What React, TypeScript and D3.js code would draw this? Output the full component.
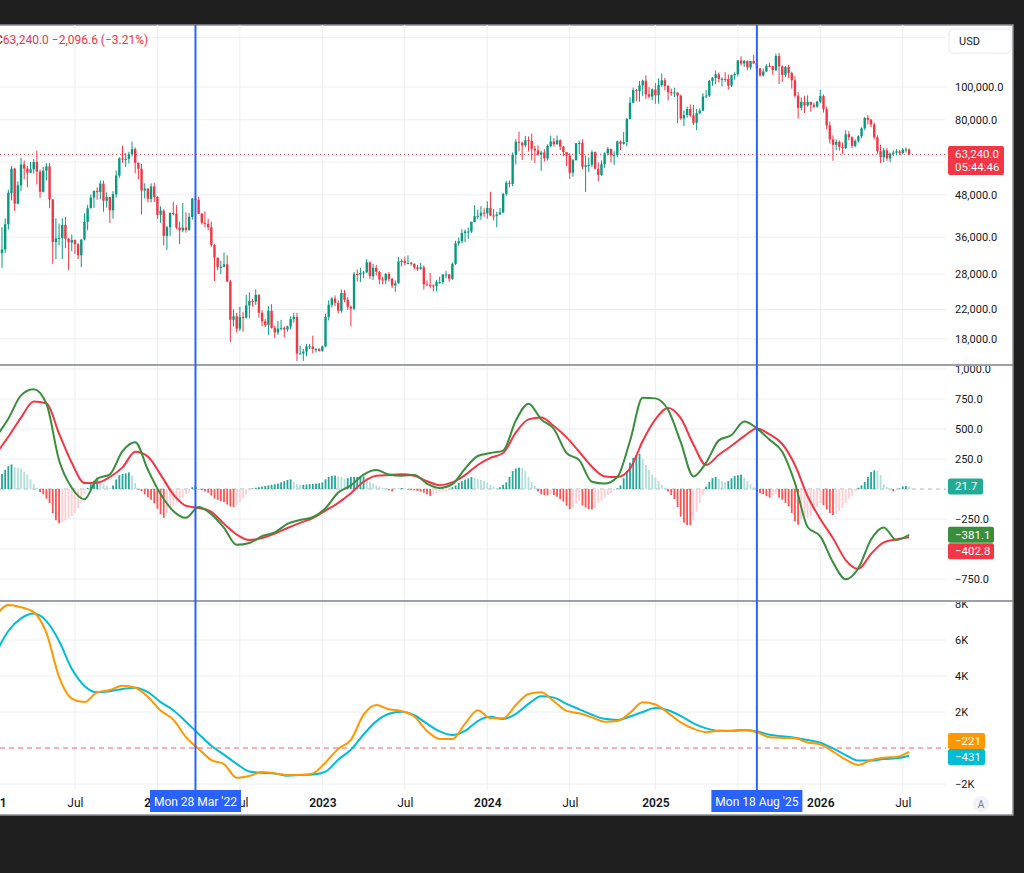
import { useEffect, useRef } from "react";
import * as d3 from "d3";

// weekly candles, first bar Mon 11 Jan 2021, values in thousands of USD
const startWeek = "2021-01-11";
const firstOpen = 38.2;

const closes = [
  35.8, 32.3, 33.1, 39.3, 48.6, 57.4, 45.2, 51.2, 59.0, 57.4, 55.8, 57.1, 60.0, 56.2, 49.0, 56.6, 58.2, 46.5, 34.8, 35.7,
  35.8, 39.1, 35.6, 34.7, 35.3, 34.3, 31.8, 35.4, 39.9, 43.8, 47.1, 49.3, 48.9, 51.8, 46.1, 47.3, 43.2, 48.2, 54.7, 61.5,
  61.0, 61.3, 63.3, 65.5, 59.7, 57.3, 49.4, 50.1, 46.7, 50.8, 47.3, 41.9, 43.1, 36.3, 38.5, 42.4, 42.2, 38.4, 37.7, 38.4,
  37.8, 41.3, 46.8, 46.4, 42.2, 39.7, 39.4, 38.5, 34.1, 31.3, 29.4, 29.4, 29.9, 26.6, 20.5, 21.0, 19.3, 20.9, 20.8, 22.6,
  23.3, 23.2, 24.3, 21.5, 20.3, 19.8, 21.8, 19.4, 18.8, 19.3, 19.4, 19.2, 19.6, 20.6, 20.9, 16.3, 16.3, 16.5, 17.1, 17.1,
  16.8, 16.8, 16.6, 17.1, 20.9, 22.7, 23.7, 23.0, 21.8, 24.6, 23.5, 22.4, 22.1, 28.0, 27.9, 28.2, 28.3, 30.3, 27.6, 29.2,
  28.4, 27.0, 26.8, 28.0, 27.1, 25.9, 26.3, 30.5, 30.6, 30.2, 30.2, 30.0, 29.3, 29.0, 29.3, 26.1, 26.0, 25.9, 25.8, 26.5,
  26.5, 27.9, 27.9, 27.1, 30.0, 34.5, 35.0, 37.0, 37.4, 37.4, 39.9, 41.5, 41.6, 42.5, 42.3, 43.9, 41.7, 41.6, 42.0, 42.6,
  48.3, 52.1, 51.7, 63.1, 68.9, 68.4, 67.2, 69.6, 69.3, 65.7, 64.9, 63.1, 64.0, 61.5, 66.9, 69.0, 67.7, 69.6, 66.6, 64.2,
  62.7, 55.8, 60.8, 68.2, 68.3, 58.1, 58.7, 58.9, 64.2, 57.3, 54.9, 59.1, 63.6, 65.6, 62.8, 62.9, 69.0, 67.9, 68.8, 80.4,
  89.9, 97.9, 97.2, 101.1, 104.4, 95.1, 93.7, 98.3, 94.5, 101.3, 104.7, 100.6, 96.5, 96.1, 96.3, 94.2, 80.7, 82.6, 86.1, 82.4,
  78.4, 83.7, 85.1, 93.7, 94.3, 104.3, 106.4, 109.0, 105.7, 105.7, 105.6, 100.9, 108.3, 109.2, 119.8, 117.3, 119.4, 114.2, 119.3, 117.4,
  113.5, 108.2, 111.1, 115.3, 115.2, 112.2, 123.5, 115.1, 108.6, 114.5, 110.0, 104.7, 94.2, 86.8, 90.4, 88.2, 90.3, 88.6, 87.5, 90.5,
  94.0, 86.0, 77.0, 70.0, 67.5, 68.8, 66.5, 66.0, 72.5, 71.0, 67.0, 69.3, 71.5, 75.5, 81.0, 80.0, 77.5, 71.0, 64.5, 62.0,
  65.0, 61.5, 63.5, 64.0, 64.5, 63.8, 65.3, 65.34, 63.24,
];

const highs = [
  40.1, 37.8, 38.5, 40.9, 49.7, 58.4, 57.5, 52.6, 61.8, 60.6, 58.4, 60.0, 61.2, 64.9, 57.0, 58.0, 59.5, 59.6, 46.6, 40.9,
  39.5, 40.9, 41.3, 35.8, 36.6, 35.4, 34.6, 35.5, 42.3, 44.8, 48.1, 49.4, 50.5, 52.9, 52.9, 48.8, 47.3, 49.2, 56.6, 62.0,
  67.0, 63.7, 64.3, 69.0, 66.3, 59.4, 59.2, 51.9, 50.1, 51.9, 52.1, 47.5, 44.4, 43.5, 38.9, 42.6, 45.8, 44.7, 40.0, 45.4,
  42.6, 42.4, 47.0, 48.2, 47.4, 42.4, 42.9, 40.8, 40.0, 34.3, 31.0, 30.6, 32.4, 31.8, 26.9, 22.0, 21.5, 22.4, 21.6, 24.3,
  24.7, 23.6, 25.2, 24.4, 21.9, 20.6, 22.5, 22.8, 19.7, 20.3, 20.5, 19.6, 19.7, 21.0, 21.5, 21.5, 17.2, 16.8, 17.4, 17.4,
  18.4, 16.9, 16.9, 17.2, 21.4, 23.4, 23.9, 24.2, 23.4, 25.2, 25.1, 23.9, 22.6, 28.4, 28.9, 29.2, 28.6, 31.0, 30.5, 30.0,
  29.8, 28.6, 27.5, 28.2, 28.4, 27.3, 26.8, 31.4, 31.0, 31.5, 31.8, 30.4, 30.1, 29.8, 30.2, 29.7, 26.8, 28.2, 26.1, 26.9,
  27.5, 28.0, 28.6, 28.0, 30.3, 35.1, 35.9, 38.0, 37.9, 38.4, 40.0, 44.7, 43.4, 44.4, 43.8, 45.9, 49.0, 43.6, 42.8, 43.9,
  48.6, 52.8, 52.9, 64.0, 70.1, 73.8, 68.9, 71.7, 71.4, 72.8, 66.9, 67.2, 64.7, 65.5, 67.7, 71.9, 70.6, 71.9, 70.0, 67.0,
  63.4, 63.8, 61.3, 68.3, 69.4, 70.0, 62.7, 61.8, 65.0, 64.5, 59.8, 60.7, 64.1, 66.5, 65.7, 64.5, 69.4, 69.5, 73.6, 81.0,
  93.3, 99.6, 98.7, 104.1, 105.2, 108.3, 99.9, 99.0, 102.7, 106.0, 109.6, 106.4, 101.5, 98.9, 99.5, 96.5, 95.0, 85.3, 87.5, 88.8,
  88.5, 86.1, 86.5, 95.8, 97.9, 104.9, 107.1, 111.9, 110.4, 106.8, 110.6, 108.9, 108.8, 110.5, 120.0, 123.2, 120.2, 119.8, 119.5, 124.5,
  117.6, 113.7, 113.4, 116.8, 117.9, 115.4, 125.6, 126.2, 115.9, 115.5, 116.4, 111.0, 107.5, 96.6, 93.1, 94.2, 94.5, 90.5, 90.0, 91.0,
  98.0, 95.0, 87.5, 79.0, 72.0, 70.0, 69.5, 68.5, 74.5, 74.0, 71.5, 70.0, 72.0, 76.0, 81.5, 82.6, 80.5, 78.5, 72.0, 67.5,
  66.0, 66.0, 64.0, 65.0, 65.5, 65.2, 66.0, 66.2, 65.8,
];

const lows = [
  30.4, 28.8, 29.2, 32.3, 37.9, 46.2, 43.0, 45.0, 49.3, 53.3, 50.5, 55.6, 55.5, 51.5, 47.0, 48.8, 52.9, 43.8, 30.0, 31.0,
  34.0, 31.0, 33.4, 28.8, 32.7, 32.1, 31.0, 29.3, 35.2, 37.7, 43.8, 43.9, 46.4, 46.5, 42.8, 44.0, 39.6, 40.8, 47.1, 53.9,
  59.7, 58.0, 59.4, 62.3, 55.6, 53.3, 42.0, 46.8, 45.6, 45.6, 45.7, 40.7, 39.7, 34.0, 33.0, 36.3, 41.7, 38.0, 34.3, 37.2,
  37.1, 37.6, 40.5, 44.3, 42.1, 39.2, 38.5, 37.7, 33.7, 26.7, 28.7, 28.0, 29.3, 26.5, 17.6, 19.6, 18.8, 19.0, 18.9, 20.7,
  20.7, 22.4, 22.7, 20.8, 19.6, 19.5, 18.5, 19.3, 18.1, 18.5, 19.1, 18.2, 18.9, 19.2, 20.1, 15.5, 16.2, 15.5, 16.0, 16.8,
  16.3, 16.4, 16.5, 16.5, 17.0, 20.4, 22.3, 22.5, 21.4, 21.5, 23.1, 21.9, 19.6, 21.9, 26.6, 26.5, 27.2, 28.2, 27.1, 26.9,
  27.7, 26.1, 26.1, 26.1, 26.6, 25.4, 24.8, 26.2, 29.5, 29.7, 29.9, 29.6, 28.9, 28.6, 28.8, 25.2, 25.8, 25.4, 24.9, 24.9,
  26.2, 26.1, 27.2, 26.6, 26.9, 29.8, 33.9, 34.5, 34.8, 35.6, 37.0, 39.8, 40.6, 40.5, 41.3, 40.8, 41.5, 40.3, 38.5, 41.9,
  42.3, 47.7, 50.5, 50.9, 59.0, 64.5, 60.8, 66.5, 64.5, 60.7, 59.6, 62.8, 56.5, 60.2, 60.6, 66.3, 66.6, 67.6, 65.1, 62.5,
  58.4, 53.5, 54.3, 60.6, 63.5, 57.2, 49.0, 56.1, 57.9, 57.2, 52.6, 54.6, 57.6, 62.7, 59.8, 58.9, 62.0, 65.1, 67.5, 66.8,
  80.2, 89.4, 90.8, 90.5, 94.2, 92.2, 92.6, 91.3, 89.2, 89.3, 100.1, 97.8, 91.2, 94.1, 93.4, 78.2, 80.0, 76.6, 81.2, 81.6,
  77.2, 74.5, 83.0, 85.1, 92.8, 93.4, 100.8, 102.0, 103.1, 100.4, 103.4, 98.2, 100.0, 105.1, 107.5, 115.7, 114.7, 112.0, 112.6, 116.8,
  110.7, 107.3, 107.3, 110.6, 114.5, 108.6, 111.4, 102.0, 103.5, 107.1, 106.3, 98.9, 93.0, 80.6, 85.3, 83.8, 87.5, 84.5, 86.5, 86.8,
  89.5, 84.0, 75.0, 68.0, 60.5, 65.0, 64.8, 63.5, 65.5, 69.5, 66.0, 66.3, 68.5, 70.5, 74.5, 77.5, 76.0, 70.0, 63.5, 59.6,
  60.0, 60.5, 60.0, 62.5, 62.8, 63.0, 63.2, 64.0, 62.8,
];

// weekly histogram of the middle pane
const histogram = [
  90, 110, 125, 160, 190, 205, 180, 175, 170, 145, 120, 80, 40, 10,
  -25, -45, -80, -117, -200, -260, -285, -275, -262, -245, -225, -200, -160, -117, -45,
  10, 40, 70, 95, 60, 40, 25, 10,
  30, 80, 115, 125, 130, 138, 110, 50,
  -5, -18, -45, -67, -90, -120, -165, -210, -240, -200, -160, -140, -115, -100, -70, -45, -30,
  15, 20,
  -5, -10, -20, -30, -55, -80, -90, -100, -110, -130, -145, -150, -135, -110, -75, -45, -15,
  5, 10, 15, 20, 25, 30, 35, 40, 45, 55, 65, 75, 80, 60, 40, 35, 35, 38, 40, 42, 45, 48, 55, 80, 100, 110, 112, 105,
  100, 85, 90, 100, 100, 100, 102, 105, 85, 60, 45, 30, 20, 10,
  3, -10, -20, -10, 3, 8, 3,
  -5, -10, -12, -17, -22, -30, -45, -58, -40, -33, -28, -22, -18, -10,
  15, 30, 50, 65, 78, 88, 100, 95, 82, 75, 68, 55, 35, 20, 8,
  15, 35, 55, 100, 150, 170, 178, 175, 150, 100, 60, 25,
  -20, -44, -50, -53, -45, -50, -65, -85, -105, -140, -167, -155, -120, -100, -135, -155, -167, -170, -160, -120, -95, -70, -50, -33, -12,
  5, 30, 90, 150, 220, 260, 283, 292, 250, 200, 158, 120, 95, 67, 35, 10,
  -20, -50, -83, -150, -230, -280, -300, -302, -260, -190, -115, -50,
  20, 60, 90, 100, 85, 67, 55, 65, 90, 108, 115, 120, 95, 65, 40, 15,
  -20, -35, -44, -60, -72, -55, -40, -72, -90, -115, -144, -200, -270, -297, -255, -245, -240, -220, -183, -150, -117, -135, -170, -200, -217, -205, -180, -158, -120, -80, -55, -20,
  10, 30, 58, 100, 142, 155, 150, 117, 40, 15,
  5, -20, -5, 5, 20, 25, 21.7,
];

// lines sampled every 4 weeks from the first bar
const macdLine = [
  430, 585, 780, 830, 710, 240, 10, -85, 85, 122,
  315, 390, 160, -42, -183, -240, -150, -210, -323, -465,
  -450, -393, -362, -290, -258, -235, -160, -30, 30, 120,
  158, 120, 110, 117, 45, 8, 40, 170, 275, 300,
  320, 570, 710, 580, 500, 300, 240, 60, 45, 100,
  400, 760, 755, 660, 390, 105, 220, 405, 450, 562,
  505, 410, 310, 50, -317, -395, -610, -752, -660, -420,
  -320, -425, -381.1,
];
const signalLine = [
  290, 435, 595, 728, 715, 462, 219, 50, 53, 100,
  180, 310, 270, 120, -45, -140, -158, -190, -290, -380,
  -425, -408, -372, -325, -282, -243, -180, -115, -35, 60,
  110, 117, 122, 110, 65, 32, 55, 115, 200, 260,
  300, 470, 580, 595, 525, 430, 310, 185, 105, 100,
  170, 400, 580, 675, 590, 370, 200, 285, 360, 440,
  505, 455, 375, 200, -60, -250, -410, -592, -665, -540,
  -445, -420, -402.8,
];

// lower pane, thousands
const longMacd = [
  7.3, 7.95, 7.82, 7.55, 6.4, 3.95, 2.75, 2.55, 3.09, 3.22,
  3.46, 3.35, 2.85, 2.08, 1.58, 0.6, -0.05, -0.67, -0.9, -1.65,
  -1.55, -1.33, -1.41, -1.5, -1.5, -1.41, -0.8, -0.05, 0.45, 1.85,
  2.39, 2.15, 2.05, 1.75, 0.95, 0.5, 0.5, 1.35, 2.1, 1.65,
  1.65, 2.39, 3.0, 3.1, 2.6, 2.06, 1.93, 1.7, 1.46, 1.5,
  1.95, 2.54, 2.42, 1.95, 1.42, 1.07, 0.88, 0.96, 0.94, 0.98,
  0.88, 0.6, 0.56, 0.54, 0.31, 0.2, -0.2, -0.65, -0.94, -0.67,
  -0.54, -0.5, -0.221,
];
const longSignal = [
  5.25, 6.5, 7.2, 7.47, 7.05, 5.95, 4.4, 3.45, 3.1, 3.15,
  3.28, 3.35, 3.1, 2.55, 2.1, 1.46, 0.78, 0.13, -0.37, -0.88,
  -1.3, -1.38, -1.41, -1.54, -1.5, -1.47, -1.31, -0.65, -0.1, 0.75,
  1.48, 1.9, 2.02, 1.82, 1.35, 0.92, 0.72, 0.95, 1.5, 1.73,
  1.61, 1.9, 2.45, 2.87, 2.8, 2.45, 2.15, 1.85, 1.62, 1.56,
  1.75, 2.0, 2.22, 2.1, 1.78, 1.37, 1.09, 0.96, 0.96, 1.0,
  0.92, 0.74, 0.65, 0.57, 0.44, 0.3, -0.02, -0.39, -0.7, -0.7,
  -0.61, -0.57, -0.431,
];

// vertical grid at the first bar of each half year
const timeTicks = [
  "2021-01-04", "2021-07-05", "2022-01-03", "2022-07-04", "2023-01-02", "2023-07-03",
  "2024-01-01", "2024-07-01", "2025-01-06", "2025-07-07", "2026-01-05", "2026-07-06",
];
// labels not hidden behind the date tags
const timeLabelTicks = [
  "2021-01-04", "2021-07-05", "2022-01-03", "2022-07-04", "2023-01-02", "2023-07-03",
  "2024-01-01", "2024-07-01", "2025-01-06", "2026-01-05", "2026-07-06",
];
const timeLabels = ["2021", "Jul", "2022", "Jul", "2023", "Jul", "2024", "Jul", "2025", "2026", "Jul"];

const priceGrid = [140, 100, 80, 60, 48, 36, 28, 22, 18];
const priceLabels = [100, 80, 48, 36, 28, 22, 18];
const macdGrid = [1000, 750, 500, 250, -250, -500, -750];
const macdLabels = [1000, 750, 500, 250, -250, -750];
const longGrid = [8, 6, 4, 2, -2];

const markerDates = ["2022-03-28", "2025-08-18"];
const markerLabels = ["Mon 28 Mar '22", "Mon 18 Aug '25"];

const lastPrice = 63.24;

export default function App() {
  const svgRef = useRef<SVGSVGElement>(null);

  useEffect(() => {
    if (!svgRef.current) return;
    const svg = d3.select(svgRef.current);
    svg.selectAll("*").remove();

    const font = "Roboto, 'Trebuchet MS', Arial, sans-serif";
    const plotRight = 946;
    const frameRight = 1013;
    const panes = {
      price: [25, 365],
      macd: [365, 601],
      long: [601, 790],
    } as Record<string, number[]>;

    const parse = d3.utcParse("%Y-%m-%d");
    const start = parse(startWeek)!;
    const weekDate = (i: number) => d3.utcDay.offset(start, 7 * i);
    const lineDate = (k: number) => d3.utcDay.offset(start, 28 * k);

    const x = d3
      .scaleUtc()
      .domain([parse("2022-01-01")!, parse("2026-01-01")!])
      .range([156.5, 818.5]);
    const yPrice = d3.scaleLog().domain([15.07, 152.5]).range([365, 25]);
    const yMacd = d3.scaleLinear().domain([-933, 1033]).range([601, 365]);
    const yLong = d3.scaleLinear().domain([-2.333, 8.167]).range([790, 601]);

    const candles = closes.map((c, i) => {
      const open = i === 0 ? firstOpen : closes[i - 1];
      return {
        date: weekDate(i),
        open,
        close: c,
        high: Math.max(highs[i], open, c),
        low: Math.min(lows[i], open, c),
      };
    });

    // frame
    svg.append("rect").attr("width", 1024).attr("height", 873).attr("fill", "#1e1e1e");
    svg
      .append("rect")
      .attr("x", -2)
      .attr("y", 25)
      .attr("width", frameRight + 2)
      .attr("height", 790)
      .attr("fill", "#ffffff")
      .attr("stroke", "#8c8f96")
      .attr("stroke-width", 1.5);

    const defs = svg.append("defs");
    Object.entries(panes).forEach(([name, [top, bottom]]) => {
      defs
        .append("clipPath")
        .attr("id", `clip-${name}`)
        .append("rect")
        .attr("x", 0)
        .attr("y", top + 1)
        .attr("width", frameRight)
        .attr("height", bottom - top - 1);
      defs
        .append("clipPath")
        .attr("id", `plot-${name}`)
        .append("rect")
        .attr("x", 0)
        .attr("y", top + 1)
        .attr("width", plotRight)
        .attr("height", bottom - top - 1);
    });

    // grid
    const grid = svg.append("g").attr("stroke", "#eceef2").attr("stroke-width", 1);
    grid
      .selectAll("line.v")
      .data(timeTicks)
      .join("line")
      .attr("x1", (d) => x(parse(d)!))
      .attr("x2", (d) => x(parse(d)!))
      .attr("y1", 25)
      .attr("y2", 790);
    grid
      .selectAll("line.p")
      .data(priceGrid)
      .join("line")
      .attr("x1", 0)
      .attr("x2", plotRight)
      .attr("y1", (d) => yPrice(d))
      .attr("y2", (d) => yPrice(d));
    grid
      .selectAll("line.m")
      .data(macdGrid)
      .join("line")
      .attr("x1", 0)
      .attr("x2", plotRight)
      .attr("y1", (d) => yMacd(d))
      .attr("y2", (d) => yMacd(d));
    grid
      .selectAll("line.l")
      .data(longGrid)
      .join("line")
      .attr("x1", 0)
      .attr("x2", plotRight)
      .attr("y1", (d) => yLong(d))
      .attr("y2", (d) => yLong(d));

    // price pane
    const gPrice = svg.append("g").attr("clip-path", "url(#plot-price)");
    gPrice
      .append("line")
      .attr("x1", 0)
      .attr("x2", plotRight)
      .attr("y1", yPrice(lastPrice))
      .attr("y2", yPrice(lastPrice))
      .attr("stroke", "#f23645")
      .attr("stroke-width", 1)
      .attr("stroke-dasharray", "1 3");

    const up = "#089981";
    const down = "#f23645";
    gPrice
      .selectAll("line.wick")
      .data(candles)
      .join("line")
      .attr("x1", (d) => x(d.date))
      .attr("x2", (d) => x(d.date))
      .attr("y1", (d) => yPrice(d.high))
      .attr("y2", (d) => yPrice(d.low))
      .attr("stroke", (d) => (d.close >= d.open ? up : down))
      .attr("stroke-width", 1);
    gPrice
      .selectAll("rect.body")
      .data(candles)
      .join("rect")
      .attr("x", (d) => x(d.date) - 1.2)
      .attr("width", 2.4)
      .attr("y", (d) => yPrice(Math.max(d.open, d.close)))
      .attr("height", (d) =>
        Math.max(1, yPrice(Math.min(d.open, d.close)) - yPrice(Math.max(d.open, d.close)))
      )
      .attr("fill", (d) => (d.close >= d.open ? up : down));

    // macd pane
    const gMacd = svg.append("g").attr("clip-path", "url(#plot-macd)");
    gMacd
      .append("line")
      .attr("x1", 0)
      .attr("x2", plotRight)
      .attr("y1", yMacd(0))
      .attr("y2", yMacd(0))
      .attr("stroke", "#9598a1")
      .attr("stroke-opacity", 0.7)
      .attr("stroke-dasharray", "4 4");
    gMacd
      .selectAll("rect.hist")
      .data(histogram)
      .join("rect")
      .attr("x", (_, i) => x(weekDate(i)) - 0.9)
      .attr("width", 1.8)
      .attr("y", (d) => yMacd(Math.max(0, d)))
      .attr("height", (d) => Math.abs(yMacd(d) - yMacd(0)))
      .attr("fill", (d, i) => {
        const prev = i > 0 ? histogram[i - 1] : d;
        if (d >= 0) return d >= prev ? "#26a69a" : "#b2dfdb";
        return d <= prev ? "#ff5252" : "#ffcdd2";
      });

    const macdPath = d3
      .line<number>()
      .x((_, k) => x(lineDate(k)))
      .y((d) => yMacd(d))
      .curve(d3.curveMonotoneX);
    gMacd
      .append("path")
      .datum(signalLine)
      .attr("d", macdPath)
      .attr("fill", "none")
      .attr("stroke", "#f23645")
      .attr("stroke-width", 2);
    gMacd
      .append("path")
      .datum(macdLine)
      .attr("d", macdPath)
      .attr("fill", "none")
      .attr("stroke", "#388e3c")
      .attr("stroke-width", 2);

    // lower pane
    const gLong = svg.append("g").attr("clip-path", "url(#plot-long)");
    gLong
      .append("line")
      .attr("x1", 0)
      .attr("x2", plotRight)
      .attr("y1", yLong(0))
      .attr("y2", yLong(0))
      .attr("stroke", "#f0606c")
      .attr("stroke-dasharray", "5 4")
      .attr("stroke-width", 1);
    const longPath = d3
      .line<number>()
      .x((_, k) => x(lineDate(k)))
      .y((d) => yLong(d))
      .curve(d3.curveMonotoneX);
    gLong
      .append("path")
      .datum(longSignal)
      .attr("d", longPath)
      .attr("fill", "none")
      .attr("stroke", "#00bcd4")
      .attr("stroke-width", 2);
    gLong
      .append("path")
      .datum(longMacd)
      .attr("d", longPath)
      .attr("fill", "none")
      .attr("stroke", "#ff9800")
      .attr("stroke-width", 2);

    // pane separators
    svg
      .selectAll("line.sep")
      .data([365, 601])
      .join("line")
      .attr("x1", 0)
      .attr("x2", frameRight)
      .attr("y1", (d) => d)
      .attr("y2", (d) => d)
      .attr("stroke", "#7d8089")
      .attr("stroke-width", 1.5);

    // right axes
    const minus = (s: string) => s.replace("-", "\u2212");
    const styleAxis = (g: d3.Selection<SVGGElement, unknown, null, undefined>) => {
      g.select(".domain").remove();
      g.selectAll("text")
        .attr("font-family", font)
        .attr("font-size", 11)
        .attr("fill", "#131722");
    };
    svg
      .append("g")
      .attr("clip-path", "url(#clip-price)")
      .append("g")
      .attr("transform", `translate(${plotRight},0)`)
      .call(
        d3
          .axisRight(yPrice)
          .tickValues(priceLabels)
          .tickSize(0)
          .tickPadding(9)
          .tickFormat((d) => d3.format(",.1f")((d as number) * 1000))
      )
      .call(styleAxis);
    svg
      .append("g")
      .attr("clip-path", "url(#clip-macd)")
      .append("g")
      .attr("transform", `translate(${plotRight},0)`)
      .call(
        d3
          .axisRight(yMacd)
          .tickValues(macdLabels)
          .tickSize(0)
          .tickPadding(9)
          .tickFormat((d) => minus(d3.format(",.1f")(d as number)))
      )
      .call(styleAxis);
    svg
      .append("g")
      .attr("clip-path", "url(#clip-long)")
      .append("g")
      .attr("transform", `translate(${plotRight},0)`)
      .call(
        d3
          .axisRight(yLong)
          .tickValues(longGrid)
          .tickSize(0)
          .tickPadding(9)
          .tickFormat((d) => minus(`${d}K`))
      )
      .call(styleAxis);

    // time axis
    const timeAxis = svg
      .append("g")
      .attr("transform", "translate(0,790)")
      .call(
        d3
          .axisBottom(x)
          .tickValues(timeLabelTicks.map((d) => parse(d)!))
          .tickSize(0)
          .tickPadding(8)
          .tickFormat((_, i) => timeLabels[i])
      );
    timeAxis.select(".domain").remove();
    timeAxis
      .selectAll("text")
      .attr("font-family", font)
      .attr("font-size", 12)
      .attr("fill", "#131722")
      .attr("font-weight", (_, i) => (timeLabels[i] === "Jul" ? 400 : 600));

    // value tags
    const tag = (y: number, w: number, h: number, fill: string, lines: string[]) => {
      const g = svg.append("g");
      g.append("rect")
        .attr("x", 948)
        .attr("y", y)
        .attr("width", w)
        .attr("height", h)
        .attr("rx", 2)
        .attr("fill", fill);
      lines.forEach((t, i) => {
        g.append("text")
          .attr("x", 955)
          .attr("y", y + 8 + i * 13)
          .attr("dy", "0.35em")
          .attr("font-family", font)
          .attr("font-size", 11.5)
          .attr("fill", "#ffffff")
          .text(t);
      });
    };
    tag(146, 56, 29, "#f23645", [d3.format(",.1f")(lastPrice * 1000), "05:44:46"]);
    tag(yMacd(histogram[histogram.length - 1]) - 8, 35, 16, "#22ab94", [
      d3.format(".1f")(histogram[histogram.length - 1]),
    ]);
    tag(yMacd(macdLine[macdLine.length - 1]) - 8, 46, 16, "#388e3c", [
      minus(d3.format(".1f")(macdLine[macdLine.length - 1])),
    ]);
    tag(yMacd(macdLine[macdLine.length - 1]) + 8.5, 46, 16, "#f23645", [
      minus(d3.format(".1f")(signalLine[signalLine.length - 1])),
    ]);
    tag(yLong(longMacd[longMacd.length - 1]) - 19, 37, 16, "#ff9800", [
      minus(d3.format(".0f")(longMacd[longMacd.length - 1] * 1000)),
    ]);
    tag(yLong(longMacd[longMacd.length - 1]) - 3, 37, 16, "#00bcd4", [
      minus(d3.format(".0f")(longSignal[longSignal.length - 1] * 1000)),
    ]);

    // currency box
    svg
      .append("rect")
      .attr("x", 949)
      .attr("y", 29)
      .attr("width", 62)
      .attr("height", 24)
      .attr("rx", 4)
      .attr("fill", "#ffffff")
      .attr("stroke", "#e6e8ee");
    svg
      .append("text")
      .attr("x", 959)
      .attr("y", 41)
      .attr("dy", "0.35em")
      .attr("font-family", font)
      .attr("font-size", 11)
      .attr("fill", "#131722")
      .text("USD");

    // vertical markers with their date tags
    markerDates.forEach((d, i) => {
      const mx = x(parse(d)!);
      svg
        .append("line")
        .attr("x1", mx)
        .attr("x2", mx)
        .attr("y1", 25)
        .attr("y2", 791)
        .attr("stroke", "#2962ff")
        .attr("stroke-width", 2);
      svg
        .append("rect")
        .attr("x", mx - 45.5)
        .attr("y", 790)
        .attr("width", 91)
        .attr("height", 22)
        .attr("fill", "#2962ff");
      svg
        .append("text")
        .attr("x", mx)
        .attr("y", 801.5)
        .attr("dy", "0.35em")
        .attr("text-anchor", "middle")
        .attr("font-family", font)
        .attr("font-size", 12)
        .attr("fill", "#ffffff")
        .text(markerLabels[i]);
    });

    // auto scale button
    svg
      .append("circle")
      .attr("cx", 981)
      .attr("cy", 804)
      .attr("r", 8)
      .attr("fill", "#f0f3fa");
    svg
      .append("text")
      .attr("x", 981)
      .attr("y", 804)
      .attr("dy", "0.35em")
      .attr("text-anchor", "middle")
      .attr("font-family", font)
      .attr("font-size", 10)
      .attr("fill", "#787b86")
      .text("A");

    // legend
    const legend = svg
      .append("text")
      .attr("x", -5)
      .attr("y", 40)
      .attr("dy", "0.35em")
      .attr("font-family", font)
      .attr("font-size", 12);
    legend.append("tspan").attr("fill", "#131722").text("C");
    legend
      .append("tspan")
      .attr("fill", "#f23645")
      .text("63,240.0  \u22122,096.6 (\u22123.21%)");
  }, []);

  return (
    <div
      style={{
        position: "fixed",
        left: 0,
        top: 0,
        width: 1024,
        height: 873,
        background: "#1e1e1e",
      }}
    >
      <svg ref={svgRef} width={1024} height={873} style={{ display: "block" }} />
    </div>
  );
}
